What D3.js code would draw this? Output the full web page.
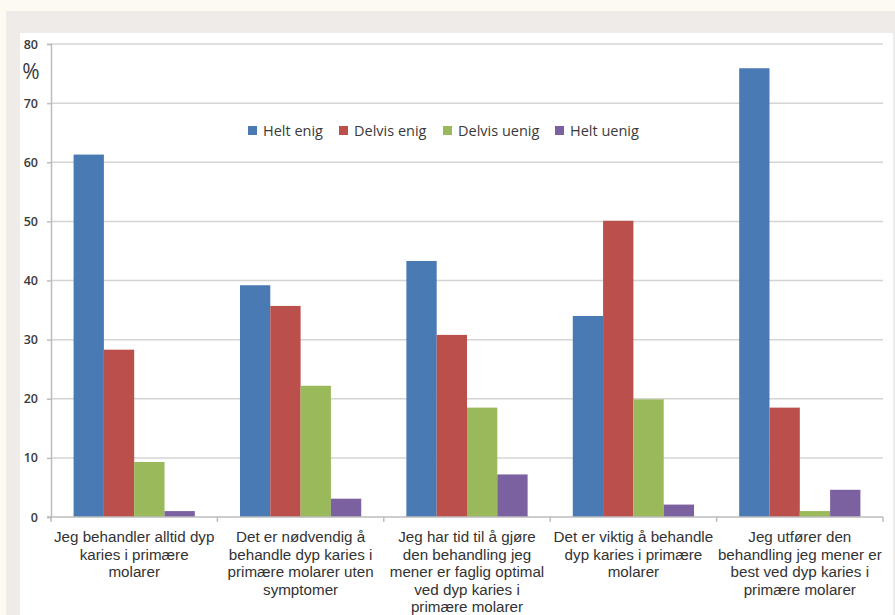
<!DOCTYPE html>
<html>
<head>
<meta charset="utf-8">
<script src="https://cdn.jsdelivr.net/npm/d3@7"></script>
<style>
html,body{margin:0;padding:0;background:#fdfbf1;}
svg{display:block;}
</style>
</head>
<body>
<svg id="chart" width="895" height="615"></svg>
<script>
const categories = [
  "Jeg behandler alltid dyp\nkaries i primære\nmolarer",
  "Det er nødvendig å\nbehandle dyp karies i\nprimære molarer uten\nsymptomer",
  "Jeg har tid til å gjøre\nden behandling jeg\nmener er faglig optimal\nved dyp karies i\nprimære molarer",
  "Det er viktig å behandle\ndyp karies i primære\nmolarer",
  "Jeg utfører den\nbehandling jeg mener er\nbest ved dyp karies i\nprimære molarer"
];
const seriesNames = ["Helt enig", "Delvis enig", "Delvis uenig", "Helt uenig"];
const heltEnig    = [61.3, 39.2, 43.3, 34.0, 75.9];
const delvisEnig  = [28.3, 35.7, 30.8, 50.1, 18.5];
const delvisUenig = [9.3, 22.2, 18.5, 19.9, 1.0];
const heltUenig   = [1.0, 3.1, 7.2, 2.1, 4.6];
const yTicks = [0, 10, 20, 30, 40, 50, 60, 70, 80];
const colors = ["#4a7ab4", "#bb4f4b", "#99b95a", "#7c61a0"];

const seriesValues = [heltEnig, delvisEnig, delvisUenig, heltUenig];
const svg = d3.select("#chart");

// panel backgrounds
svg.append("rect").attr("x", 6).attr("y", 11).attr("width", 889).attr("height", 604).attr("fill", "#eeebe8");
svg.append("rect").attr("x", 20).attr("y", 33).attr("width", 873).attr("height", 582).attr("fill", "#ffffff");

const pLeft = 51, pRight = 883, pTop = 44, pBottom = 517;
const y = d3.scaleLinear().domain([0, 80]).range([pBottom, pTop]);
const x0 = d3.scaleBand().domain(d3.range(categories.length)).range([pLeft, pRight]).padding(0);
const x1 = d3.scaleBand().domain(d3.range(seriesNames.length)).range([0, x0.bandwidth()]).paddingInner(0).paddingOuter(0.745);

// gridlines
svg.append("g").selectAll("line").data(yTicks.filter(d => d > 0)).join("line")
  .attr("x1", pLeft).attr("x2", pRight)
  .attr("y1", d => y(d)).attr("y2", d => y(d))
  .attr("stroke", "#d4d4d4").attr("stroke-width", 1.5);

// y axis
const yAxis = d3.axisLeft(y).tickValues(yTicks).tickSize(4).tickPadding(9);
const gy = svg.append("g").attr("transform", `translate(${pLeft},0)`).call(yAxis);
gy.select(".domain").attr("stroke", "#bdbdbd").attr("stroke-width", 1.5);
gy.selectAll(".tick line").attr("stroke", "#bdbdbd").attr("stroke-width", 1.5);
gy.selectAll(".tick text").attr("fill", "#3a3a3a").style("font-family", "'Open Sans', sans-serif")
  .style("font-size", "12.5px").style("font-weight", "600");

svg.append("text").attr("x", 31).attr("y", 79).attr("text-anchor", "middle")
  .attr("fill", "#3a3a3a").style("font-family", "'Open Sans', sans-serif").style("font-size", "21px").text("%");

// bars
const groups = svg.append("g").selectAll("g").data(categories).join("g")
  .attr("transform", (d, i) => `translate(${x0(i)},0)`);
groups.selectAll("rect").data((d, i) => seriesValues.map((s, k) => ({k, v: s[i]}))).join("rect")
  .attr("x", d => x1(d.k)).attr("width", x1.bandwidth())
  .attr("y", d => y(d.v)).attr("height", d => y(0) - y(d.v))
  .attr("fill", d => colors[d.k]);

// x axis baseline
const xAxisG = svg.append("g").attr("transform", `translate(0,${pBottom})`);
xAxisG.append("line").attr("x1", pLeft - 4).attr("x2", pRight).attr("y1", 0).attr("y2", 0)
  .attr("stroke", "#bdbdbd").attr("stroke-width", 1.5);
const boundaries = d3.range(categories.length + 1).map(i => i < categories.length ? x0(i) : x0(categories.length - 1) + x0.bandwidth());
xAxisG.selectAll("line.tk").data(boundaries).join("line").attr("class", "tk")
  .attr("x1", d => d).attr("x2", d => d).attr("y1", 0).attr("y2", 5)
  .attr("stroke", "#bdbdbd").attr("stroke-width", 1.5);

// category labels
svg.append("g").selectAll("text").data(categories).join("text")
  .attr("text-anchor", "middle")
  .attr("fill", "#333333").style("font-family", "'Liberation Sans', Arial, sans-serif").style("font-size", "15.2px")
  .each(function(d, i) {
    const t = d3.select(this);
    d.split("\n").forEach((line, j) => {
      t.append("tspan").attr("x", x0(i) + x0.bandwidth() / 2).attr("y", 542 + j * 17.5).text(line);
    });
  });

// legend
const legendX = [248, 339, 443, 555];
const lg = svg.append("g").selectAll("g").data(seriesNames).join("g")
  .attr("transform", (d, i) => `translate(${legendX[i]},126)`);
lg.append("rect").attr("width", 9).attr("height", 9).attr("fill", (d, i) => colors[i]);
lg.append("text").attr("x", 15).attr("y", 10).attr("fill", "#3a3a3a")
  .style("font-family", "'Open Sans', sans-serif").style("font-size", "14.5px").text(d => d);
</script>
</body>
</html>
